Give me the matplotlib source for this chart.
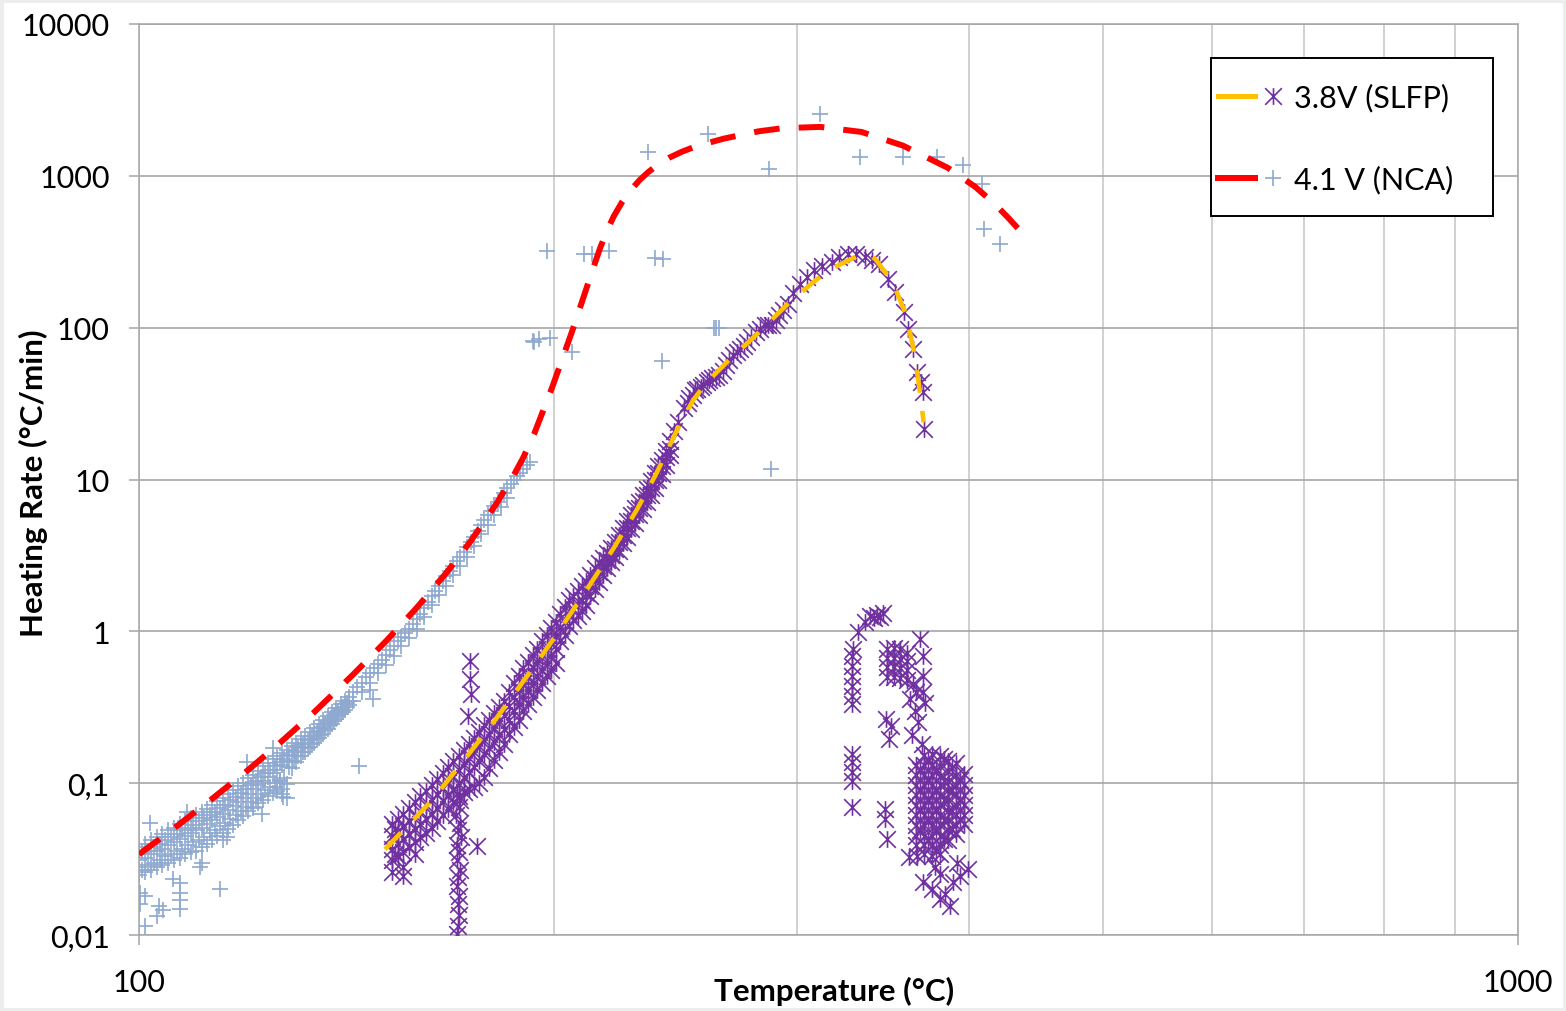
import numpy as np
import matplotlib
matplotlib.use('Agg')
import matplotlib.pyplot as plt
from matplotlib.path import Path
from matplotlib.lines import Line2D
from matplotlib.patches import Rectangle
from matplotlib.legend_handler import HandlerTuple

plt.rcParams['font.family'] = ['Lato', 'DejaVu Sans']

# ---------------- data ----------------
# 4.1 V (NCA) measured points, low temperature band
nca_band_T = [
    100, 100, 100, 100, 100,
    101, 101, 101, 102, 102, 102, 103, 103, 103, 104, 104, 104,
    105, 105, 105, 106, 106, 106, 107, 107, 107, 108, 108, 108,
    109, 109, 109, 110, 110, 110, 111, 111, 111, 112, 112, 112,
    113, 113, 113, 114, 114, 114, 115, 115, 115, 116, 116, 116,
    117, 117, 117, 118, 118, 118, 119, 119, 119, 120, 120, 120,
    121, 121, 121, 122, 122, 122, 123, 123, 123, 124, 124, 124,
    125, 125, 125, 126, 126, 126, 127, 127, 127, 128, 128, 128,
    129, 129, 129, 130, 130, 130, 131, 131, 131, 132, 132, 132,
    133, 133, 133, 134, 134, 134, 135, 135, 135, 136, 136, 136,
    137, 137, 137, 138, 138, 138, 139, 139, 139, 140, 140, 140,
    141, 141, 141, 142, 142, 142]
nca_band_rate = [
    0.038, 0.034, 0.031, 0.028, 0.025,
    0.040, 0.032, 0.026, 0.042, 0.034, 0.027, 0.044, 0.036, 0.028, 0.046, 0.037, 0.029,
    0.049, 0.039, 0.030, 0.051, 0.041, 0.031, 0.054, 0.043, 0.032, 0.056, 0.045, 0.034,
    0.059, 0.047, 0.035, 0.062, 0.049, 0.036, 0.065, 0.051, 0.038, 0.068, 0.054, 0.040,
    0.072, 0.057, 0.042, 0.076, 0.060, 0.045, 0.080, 0.063, 0.047, 0.085, 0.067, 0.050,
    0.090, 0.071, 0.053, 0.096, 0.075, 0.057, 0.101, 0.080, 0.061, 0.108, 0.085, 0.066,
    0.114, 0.091, 0.070, 0.121, 0.097, 0.074, 0.129, 0.103, 0.078, 0.136, 0.109, 0.082,
    0.144, 0.116, 0.086, 0.150, 0.123, 0.089, 0.158, 0.131, 0.092, 0.166, 0.140, 0.098,
    0.175, 0.150, 0.125, 0.184, 0.160, 0.138, 0.194, 0.170, 0.150, 0.204, 0.180, 0.160,
    0.216, 0.192, 0.172, 0.230, 0.205, 0.183, 0.245, 0.220, 0.198, 0.260, 0.236, 0.212,
    0.276, 0.252, 0.228, 0.295, 0.270, 0.246, 0.313, 0.290, 0.265, 0.332, 0.310, 0.286,
    0.350, 0.330, 0.305, 0.370, 0.350, 0.325]

nca_fill_T = [
    100.5, 100.5, 101.5, 101.5, 102.5, 102.5, 103.5, 103.5, 104.5, 104.5,
    105.5, 105.5, 106.5, 106.5, 107.5, 107.5, 108.5, 108.5, 109.5, 109.5,
    110.5, 110.5, 111.5, 111.5, 112.5, 112.5, 113.5, 113.5, 114.5, 114.5,
    115.5, 115.5, 116.5, 116.5, 117.5, 117.5, 118.5, 118.5, 119.5, 119.5,
    120.5, 120.5, 121.5, 121.5, 122.5, 122.5, 123.5, 123.5, 124.5, 124.5,
    125.5, 125.5, 126.5, 126.5, 127.5, 127.5, 128.5, 128.5, 129.5, 129.5,
    130.5, 130.5, 131.5, 131.5, 132.5, 132.5, 133.5, 133.5, 134.5, 134.5,
    135.5, 135.5, 136.5, 136.5, 137.5, 137.5, 138.5, 138.5, 139.5, 139.5,
    140.5, 140.5, 141.5, 141.5,
    101.9, 108.3, 119.8, 125.1, 105.8, 110.7, 115.9, 121.0, 115.0,
    126.0, 127.0, 128.0, 126.5]
nca_fill_rate = [
    0.035, 0.027, 0.036, 0.029, 0.038, 0.030, 0.040, 0.031, 0.042, 0.033,
    0.044, 0.034, 0.046, 0.036, 0.049, 0.037, 0.051, 0.039, 0.053, 0.041,
    0.056, 0.042, 0.059, 0.044, 0.062, 0.047, 0.065, 0.049, 0.069, 0.052,
    0.072, 0.055, 0.077, 0.058, 0.081, 0.062, 0.086, 0.066, 0.091, 0.070,
    0.097, 0.075, 0.103, 0.080, 0.109, 0.085, 0.116, 0.090, 0.123, 0.095,
    0.130, 0.100, 0.137, 0.104, 0.145, 0.108, 0.153, 0.128, 0.162, 0.140,
    0.172, 0.150, 0.182, 0.160, 0.193, 0.170, 0.205, 0.182, 0.218, 0.195,
    0.232, 0.208, 0.247, 0.223, 0.263, 0.240, 0.280, 0.257, 0.299, 0.276,
    0.318, 0.296, 0.338, 0.316,
    0.055, 0.065, 0.137, 0.170, 0.0233, 0.028, 0.044, 0.069, 0.042,
    0.095, 0.085, 0.080, 0.105]

# NCA, narrow band up to ~190 C
nca_mid_T = [
    143, 144, 145, 146, 147, 148, 149, 150, 151, 152, 153, 154, 155, 156, 157, 158, 159,
    160, 161, 162, 163, 164, 165, 166, 167, 168, 169, 170, 171, 172, 173, 174, 175, 176,
    177, 178, 179, 180, 181, 182, 183, 184, 185, 186, 187, 188, 189, 190, 191, 192,
    143, 145, 147, 149, 151, 153, 155, 157, 159, 161, 163, 165, 167, 169, 171, 173, 175,
    177, 179, 181, 183, 185]
nca_mid_rate = [
    0.40, 0.43, 0.46, 0.50, 0.53, 0.57, 0.61, 0.65, 0.70, 0.75, 0.80, 0.86, 0.92, 0.97, 1.03, 1.11, 1.20,
    1.31, 1.42, 1.55, 1.70, 1.85, 2.00, 2.15, 2.30, 2.50, 2.70, 2.90, 3.10, 3.35, 3.60, 3.90, 4.20, 4.60,
    5.00, 5.40, 5.80, 6.20, 6.70, 7.10, 7.60, 8.20, 8.80, 9.40, 10.0, 10.5, 11.0, 11.7, 12.4, 13.0,
    0.35, 0.40, 0.46, 0.53, 0.60, 0.69, 0.80, 0.90, 1.04, 1.24, 1.48, 1.74, 2.0, 2.35, 2.7, 3.1, 3.65,
    4.35, 5.0, 5.8, 6.6, 7.6]

# NCA, scattered points
nca_out_T = [101.0, 103.0, 103.4, 101.0, 104.1, 107.1, 107.1, 107.1, 107.1, 114.5, 111.1,
             122.9, 127.2, 144.4, 147.8, 147.1, 100.2, 100.2,
             193.2, 193.5, 195.0, 198.6, 197.6, 206.2, 210.4, 213.0, 219.3, 234.0, 236.6,
             239.9, 239.4, 258.7, 261.0, 262.2, 263.6, 286.4, 287.2, 311.9, 333.1, 358.1,
             378.9, 396.0, 408.8, 410.0, 421.0]
nca_out_rate = [0.0114, 0.0133, 0.0155, 0.0181, 0.0147, 0.022, 0.019, 0.017, 0.0148, 0.020, 0.030,
                0.0625, 0.081, 0.129, 0.356, 0.41, 0.019, 0.016,
                82, 80, 84, 86, 321, 68.7, 305, 305, 321, 1428, 287,
                283, 60.5, 1885, 100, 100, 100, 1109, 11.7, 2553, 1324, 1324,
                1324, 1178, 883, 446, 356]

# NCA fit (red dashed)
nca_fit_T = [100, 105.9, 112.6, 119.7, 126.6, 133.8, 143.0, 151.2, 159.0, 167.2, 173.8,
             181.7, 186.9, 190.0, 193.5, 199.3, 206.2, 210.4, 213.0, 215.9, 218.3, 220.9,
             224.0, 227.4, 230.6, 234.0, 238.0, 242.2, 247.5, 253.6, 265.7, 281.3, 292.8,
             311.9, 334.2, 358.1, 385.9, 404.1, 417.2, 426.7, 435.3]
nca_fit_rate = [0.034, 0.050, 0.077, 0.12, 0.185, 0.29, 0.52, 0.87, 1.43, 2.45, 3.87,
                6.97, 10.6, 14.0, 20.1, 40.2, 95.8, 166, 232, 332, 429, 540,
                670, 809, 934, 1057, 1190, 1312, 1440, 1568, 1761, 1963, 2060,
                2100, 1945, 1581, 1130, 845, 655, 532, 436]

# 3.8V (SLFP) measured points, low temperature band
slfp_band_T = [
    152.5, 152.5, 152.5, 152.5, 152.5, 153.3, 153.3,
    154, 154, 154, 154, 155.5, 155.5, 155.5, 155.5, 155.5,
    157, 157, 157, 157, 158.5, 158.5, 158.5, 158.5, 158.5,
    160, 160, 160, 160, 161.5, 161.5, 161.5, 161.5,
    163, 163, 163, 163, 164.5, 164.5, 164.5, 164.5,
    166, 166, 166, 166, 167.5, 167.5, 167.5, 167.5,
    169, 169, 169, 169, 170.5, 170.5, 170.5, 170.5,
    172, 172, 172, 172, 173.5, 173.5, 173.5, 173.5,
    175, 175, 175, 175, 176.5, 176.5, 176.5, 176.5,
    178, 178, 178, 178, 179.5, 179.5, 179.5, 179.5,
    181, 181, 181, 181, 182.5, 182.5, 182.5, 182.5,
    184, 184, 184, 184, 185.5, 185.5, 185.5, 185.5,
    187, 187, 187, 187, 188.5, 188.5, 188.5, 188.5,
    190, 190, 190, 190, 191.5, 191.5, 191.5, 191.5,
    193, 193, 193, 193, 194.5, 194.5, 194.5, 194.5,
    196, 196, 196, 196, 197.5, 197.5, 197.5, 197.5,
    199, 199, 199, 199, 200.5, 200.5, 200.5, 200.5]
slfp_band_rate = [
    0.054, 0.045, 0.037, 0.031, 0.026, 0.050, 0.034,
    0.058, 0.048, 0.040, 0.033, 0.063, 0.052, 0.043, 0.035, 0.028,
    0.069, 0.056, 0.046, 0.038, 0.075, 0.061, 0.050, 0.041, 0.034,
    0.082, 0.066, 0.054, 0.044, 0.089, 0.072, 0.058, 0.047,
    0.097, 0.078, 0.063, 0.051, 0.106, 0.085, 0.069, 0.056,
    0.116, 0.093, 0.076, 0.062, 0.127, 0.102, 0.083, 0.068,
    0.139, 0.112, 0.091, 0.075, 0.150, 0.122, 0.099, 0.082,
    0.165, 0.133, 0.108, 0.088, 0.180, 0.146, 0.118, 0.092,
    0.198, 0.160, 0.128, 0.095, 0.218, 0.176, 0.140, 0.100,
    0.240, 0.193, 0.155, 0.110, 0.262, 0.212, 0.170, 0.125,
    0.288, 0.232, 0.188, 0.142, 0.318, 0.256, 0.207, 0.160,
    0.350, 0.282, 0.228, 0.180, 0.400, 0.320, 0.260, 0.210,
    0.46, 0.37, 0.30, 0.235, 0.51, 0.41, 0.33, 0.26,
    0.57, 0.46, 0.37, 0.30, 0.63, 0.51, 0.41, 0.33,
    0.70, 0.57, 0.46, 0.37, 0.77, 0.63, 0.51, 0.41,
    0.86, 0.70, 0.56, 0.46, 0.95, 0.77, 0.62, 0.51,
    1.05, 0.85, 0.69, 0.56, 1.15, 0.94, 0.76, 0.62]

# SLFP, vertical spike near 170 C and a few stray points
slfp_spike_T = [170.0, 171.0, 170.5, 169.8, 170.8, 170.3, 171.2, 170.0, 170.6, 170.2, 170.9,
                170.4, 170.1, 170.7, 170.3, 170.5, 170.4, 170.2,
                173.8, 173.8, 174.2, 173.3, 175.9, 155.4]
slfp_spike_rate = [0.085, 0.078, 0.070, 0.062, 0.055, 0.049, 0.044, 0.039, 0.035, 0.031, 0.027,
                   0.024, 0.021, 0.018, 0.016, 0.0135, 0.0115, 0.0102,
                   0.637, 0.484, 0.386, 0.276, 0.0385, 0.0245]

# SLFP, band 200-243 C
slfp_rise_T = [
    202, 202, 202, 203.5, 203.5, 203.5, 205, 205, 205, 206.5, 206.5, 206.5,
    208, 208, 208, 209.5, 209.5, 209.5, 211, 211, 211, 212.5, 212.5, 212.5,
    214, 214, 214, 215.5, 215.5, 215.5, 217, 217, 217, 218.5, 218.5, 218.5,
    220, 220, 220, 221.5, 221.5, 221.5, 223, 223, 223, 224.5, 224.5, 224.5,
    226, 226, 226, 227.5, 227.5, 227.5, 229, 229, 229, 230.5, 230.5, 230.5,
    232, 232, 232, 233.5, 233.5, 233.5, 235, 235, 235, 236.5, 236.5, 236.5,
    238, 238, 238, 239.5, 239.5, 239.5, 241, 241, 241, 242.5, 242.5, 242.5]
slfp_rise_rate = [
    1.30, 1.05, 0.86, 1.45, 1.16, 0.95, 1.60, 1.30, 1.08, 1.72, 1.40, 1.18,
    1.85, 1.52, 1.26, 1.98, 1.62, 1.36, 2.15, 1.80, 1.50, 2.35, 2.00, 1.70,
    2.60, 2.20, 1.90, 2.80, 2.45, 2.10, 3.05, 2.70, 2.35, 3.30, 2.95, 2.60,
    3.55, 3.20, 2.85, 3.90, 3.50, 3.10, 4.30, 3.85, 3.40, 4.80, 4.30, 3.80,
    5.30, 4.80, 4.20, 5.80, 5.30, 4.70, 6.50, 5.90, 5.20, 7.10, 6.50, 5.80,
    7.90, 7.20, 6.40, 8.70, 7.90, 7.10, 9.80, 8.80, 7.90, 11.0, 9.9, 8.8,
    12.2, 11.0, 9.9, 13.5, 12.2, 10.8, 15.5, 14.0, 12.5, 18.0, 16.0, 14.5]

# SLFP, single track up to the peak and back down
slfp_curve_T = [244.5, 246.0, 248.6, 250.0, 250.7, 252.0, 252.9, 254.0, 255.8, 256.5,
                258.1, 259.0, 260.4, 262.0, 263.6, 265.0, 266.7, 268.0, 269.8, 271.5,
                273.0, 274.5, 276.1, 278.0, 280.2, 282.0, 284.3, 286.0, 287.7, 289.5,
                291.1, 293.0, 295.4, 298.0, 301.6, 305.0, 308.8, 313.0, 318.0, 322.0,
                326.5, 331.0, 336.3, 340.0, 344.3, 349.4, 353.6, 358.9, 361.1, 364.4,
                366.6, 368.9, 370.0, 371.1]
slfp_curve_rate = [21.0, 24.0, 29.4, 32.0, 34.2, 36.0, 38.8, 39.5, 40.8, 42.0,
                   44.0, 45.0, 46.3, 47.5, 48.7, 52.0, 56.5, 61.0, 65.7, 69.0,
                   72.7, 76.0, 80.5, 87.0, 93.7, 98.0, 103.5, 104.0, 103.5, 112.0,
                   120.5, 131.0, 143.9, 168.0, 194.9, 216.0, 238.6, 255.0, 271.0, 290.0,
                   307.0, 305.0, 292.0, 280.0, 264.0, 210.0, 171.8, 126.9, 98.5, 72.7,
                   51.1, 43.8, 37.7, 21.6]

# SLFP, cluster at 330-400 C after the peak
slfp_hot_T = [
    329.6, 332.2, 336.2, 339.0, 341.0, 343.0, 344.5, 346.4,
    329.0, 329.0, 329.0, 329.0, 329.0, 329.0,
    329.0, 329.0, 329.0, 329.0, 329.0,
    348.5, 348.5, 348.5, 348.5, 352.5, 352.5, 352.5, 352.5,
    356.5, 356.5, 356.5, 356.5, 360.5, 360.5, 360.5, 360.5,
    348.3, 351.1, 350.0, 347.6, 348.8, 347.6,
    368.5, 370.3, 370.3, 370.3,
    362.4, 365.5, 367.3, 363.6, 369.7, 371.6, 366.0, 364.0]
slfp_hot_rate = [
    0.761, 0.985, 1.15, 1.26, 1.22, 1.29, 1.25, 1.33,
    0.684, 0.588, 0.505, 0.434, 0.373, 0.33,
    0.155, 0.138, 0.118, 0.103, 0.0695,
    0.77, 0.67, 0.58, 0.50, 0.78, 0.67, 0.58, 0.50,
    0.76, 0.66, 0.57, 0.49, 0.72, 0.64, 0.56, 0.48,
    0.263, 0.237, 0.194, 0.0674, 0.0428, 0.058,
    0.886, 0.684, 0.505, 0.396,
    0.356, 0.30, 0.253, 0.207, 0.181, 0.337, 0.40, 0.45]

slfp_blob_T = [
    366.0, 366.0, 366.0, 366.0, 366.0, 366.0, 366.0, 366.0, 366.0,
    368.5, 368.5, 368.5, 368.5,
    370.9, 370.9, 370.9, 370.9, 370.9, 370.9, 370.9, 370.9, 370.9, 370.9, 370.9,
    373.5, 373.5, 373.5, 373.5, 373.5,
    376.0, 376.0, 376.0, 376.0, 376.0, 376.0, 376.0, 376.0, 376.0, 376.0, 376.0,
    378.5, 378.5, 378.5, 378.5, 378.5,
    381.1, 381.1, 381.1, 381.1, 381.1, 381.1, 381.1, 381.1, 381.1, 381.1, 381.1,
    383.7, 383.7, 383.7, 383.7, 383.7,
    386.2, 386.2, 386.2, 386.2, 386.2, 386.2, 386.2, 386.2, 386.2,
    388.8, 388.8, 388.8, 388.8,
    391.4, 391.4, 391.4, 391.4, 391.4, 391.4, 391.4, 391.4,
    394.0, 394.0, 394.0,
    396.6, 396.6, 396.6, 396.6, 396.6, 396.6,
    370.3, 376.0, 381.1, 387.5, 389.4, 394.0, 366.7, 384.3, 381.1, 399.3, 362.0, 378.0, 392.0]
slfp_blob_rate = [
    0.131, 0.113, 0.097, 0.083, 0.072, 0.062, 0.053, 0.045, 0.039,
    0.122, 0.090, 0.067, 0.049,
    0.153, 0.131, 0.113, 0.097, 0.083, 0.072, 0.062, 0.053, 0.045, 0.039, 0.034,
    0.142, 0.105, 0.077, 0.058, 0.042,
    0.155, 0.131, 0.113, 0.097, 0.083, 0.072, 0.062, 0.053, 0.045, 0.039, 0.033,
    0.122, 0.090, 0.067, 0.049, 0.036,
    0.150, 0.130, 0.112, 0.097, 0.083, 0.072, 0.062, 0.053, 0.045, 0.039, 0.034,
    0.145, 0.104, 0.078, 0.057, 0.043,
    0.140, 0.120, 0.104, 0.090, 0.077, 0.066, 0.057, 0.049, 0.042,
    0.125, 0.090, 0.066, 0.050,
    0.135, 0.113, 0.097, 0.083, 0.072, 0.062, 0.053, 0.046,
    0.105, 0.078, 0.058,
    0.115, 0.097, 0.083, 0.072, 0.062, 0.054,
    0.0223, 0.0200, 0.0172, 0.0155, 0.0223, 0.0245, 0.033, 0.0187, 0.0254, 0.0271, 0.0325, 0.028, 0.030]

# SLFP fit (yellow dashed)
slfp_fit_T = [150.8, 163.5, 177.7, 182.2, 194.2, 200.9, 211.2, 220.8, 229.6, 237.4, 245.5,
              252.2, 258.0, 267.1, 281.2, 297.9, 315.6, 332.4, 337.5, 342.0, 352.0, 360.2,
              364.4, 367.6, 370.7]
slfp_fit_rate = [0.0367, 0.079, 0.206, 0.278, 0.617, 0.959, 1.88, 3.51, 6.31, 11.1, 21.1,
                 33.2, 43.6, 59.7, 92.4, 154, 237, 299, 306, 283, 199, 120,
                 72.2, 43.6, 23.8]

ytick_vals = [0.01, 0.1, 1, 10, 100, 1000, 10000]
ytick_labels = ['0,01', '0,1', '1', '10', '100', '1000', '10000']
xtick_vals = [100, 1000]
xtick_labels = ['100', '1000']
xminor_vals = [200, 300, 400, 500, 600, 700, 800, 900]

# ---------------- drawing ----------------
c_nca = '#8EA8D0'
c_slfp = '#7030A0'
c_red = '#FF0000'
c_yel = '#FFC000'
c_grid = '#A6A6A6'

star = Path([(-1, -1), (1, 1), (-1, 1), (1, -1), (0, -1), (0, 1)],
            [Path.MOVETO, Path.LINETO] * 3)

fig = plt.figure(figsize=(15.66, 10.12), dpi=100)
fig.patches.append(Rectangle((0, 0), 1, 1, transform=fig.transFigure, fill=False,
                             edgecolor='#EDEDED', lw=5))
ax = fig.add_axes([139 / 1566, 1 - 936 / 1012, 1379 / 1566, 911 / 1012])
ax.set_xscale('log')
ax.set_yscale('log')
ax.set_xlim(100, 1000)
ax.set_ylim(0.01, 10000)

mk = dict(ls='none', mfc='none')
for T, r in [(slfp_band_T, slfp_band_rate), (slfp_spike_T, slfp_spike_rate),
             (slfp_rise_T, slfp_rise_rate), (slfp_curve_T, slfp_curve_rate),
             (slfp_hot_T, slfp_hot_rate), (slfp_blob_T, slfp_blob_rate)]:
    ax.plot(T, r, marker=star, ms=12, mew=1.2, mec=c_slfp, zorder=3, **mk)
for T, r in [(nca_band_T, nca_band_rate), (nca_fill_T, nca_fill_rate),
             (nca_mid_T, nca_mid_rate), (nca_out_T, nca_out_rate)]:
    ax.plot(T, r, marker='+', ms=12, mew=1.2, mec=c_nca, zorder=3, **mk)

ax.plot(slfp_fit_T, slfp_fit_rate, color=c_yel, lw=3.3, dashes=(5, 4), zorder=4)
ax.plot(nca_fit_T, nca_fit_rate, color=c_red, lw=4.3, dashes=(4.3, 3.2), zorder=4)

ax.set_yticks(ytick_vals)
ax.set_yticklabels(ytick_labels)
ax.set_xticks(xtick_vals)
ax.set_xticklabels(xtick_labels)
ax.set_xticks(xminor_vals, minor=True)
ax.set_xticklabels([''] * len(xminor_vals), minor=True)
ax.yaxis.set_minor_locator(matplotlib.ticker.NullLocator())
ax.tick_params(axis='both', which='major', labelsize=22, length=7, width=1.1,
               color=c_grid, direction='out')
ax.tick_params(axis='y', which='major', pad=14)
ax.tick_params(axis='x', which='major', pad=17)
ax.tick_params(axis='x', which='minor', length=0)

ax.grid(True, axis='y', which='major', color=c_grid, lw=1.2)
ax.grid(True, axis='x', which='both', color='#C4C4C4', lw=1.1)
ax.set_axisbelow(True)
for s in ax.spines.values():
    s.set_color(c_grid)
    s.set_linewidth(1.1)

ax.set_xlabel('Temperature (°C)', fontsize=22.5, fontweight='bold')
ax.set_ylabel('Heating Rate (°C/min)', fontsize=22.5, fontweight='bold')
ax.xaxis.set_label_coords(0.504, -0.045)
ax.yaxis.set_label_coords(-0.066, 0.497)

# legend: frame drawn separately so the padding can follow the original box
ax.add_patch(Rectangle((0.7774, 0.7892), 0.2045, 0.1735, transform=ax.transAxes,
                       facecolor='white', edgecolor='black', lw=1.4, zorder=5,
                       clip_on=False))
h1 = (Line2D([], [], color=c_yel, lw=3.6),
      Line2D([], [], ls='none', marker=star, ms=12, mew=1.2, mfc='none', mec=c_slfp))
h2 = (Line2D([], [], color=c_red, lw=4.3),
      Line2D([], [], ls='none', marker='+', ms=12, mew=1.2, mec=c_nca))
leg = ax.legend([h1, h2], ['3.8V (SLFP)', '4.1 V (NCA)'],
                handler_map={tuple: HandlerTuple(ndivide=None, pad=0)},
                loc='upper left', bbox_to_anchor=(0.7825, 0.9352), borderaxespad=0,
                frameon=False, fontsize=22, handlelength=2.4, handletextpad=0.1,
                labelspacing=1.75, borderpad=0)
leg.set_zorder(6)

fig.savefig('out.png', dpi=100)
